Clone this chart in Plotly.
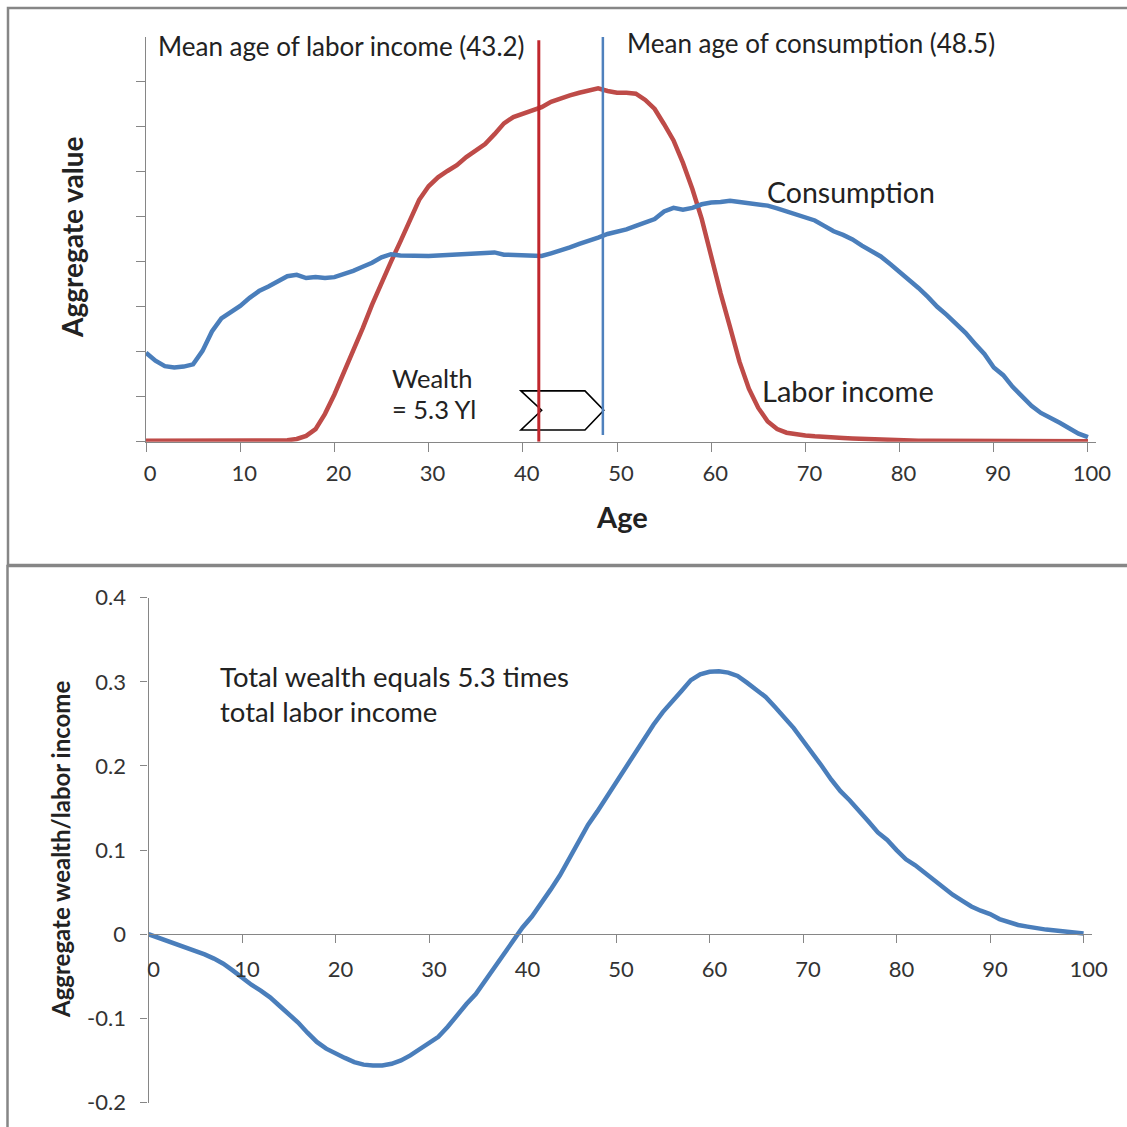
import plotly.graph_objects as go

# ---------------- data ----------------
ages = list(range(0, 101))

consumption = [
    1.98, 1.80, 1.68, 1.65, 1.67, 1.72, 2.02, 2.45, 2.74, 2.88,
    3.02, 3.20, 3.35, 3.45, 3.57, 3.68, 3.71, 3.64, 3.66, 3.64,
    3.66, 3.72, 3.80, 3.89, 3.98, 4.10, 4.17, 4.14, 4.13, 4.13,
    4.13, 4.14, 4.15, 4.17, 4.17, 4.18, 4.18, 4.21, 4.16, 4.15,
    4.13, 4.12, 4.13, 4.19, 4.25, 4.32, 4.40, 4.46, 4.54, 4.62,
    4.66, 4.72, 4.80, 4.87, 4.95, 5.12, 5.20, 5.16, 5.20, 5.28,
    5.32, 5.33, 5.36, 5.33, 5.31, 5.29, 5.25, 5.19, 5.12, 5.05,
    4.98, 4.92, 4.80, 4.68, 4.60, 4.50, 4.36, 4.24, 4.12, 3.95,
    3.78, 3.60, 3.42, 3.22, 3.00, 2.82, 2.62, 2.42, 2.18, 1.95,
    1.65, 1.48, 1.22, 1.00, 0.80, 0.64, 0.54, 0.42, 0.30, 0.18,
    0.10,
]

labor_income = [
    0.02, 0.02, 0.02, 0.02, 0.02, 0.02, 0.02, 0.02, 0.02, 0.02,
    0.02, 0.02, 0.02, 0.02, 0.02, 0.03, 0.06, 0.13, 0.28, 0.62,
    1.05, 1.52, 1.99, 2.52, 3.05, 3.55, 4.00, 4.45, 4.92, 5.38,
    5.68, 5.88, 6.02, 6.15, 6.33, 6.48, 6.62, 6.84, 7.08, 7.22,
    7.30, 7.36, 7.44, 7.56, 7.64, 7.70, 7.76, 7.80, 7.86, 7.80,
    7.76, 7.76, 7.74, 7.60, 7.40, 7.06, 6.70, 6.20, 5.62, 4.95,
    4.10, 3.30, 2.55, 1.78, 1.18, 0.75, 0.45, 0.28, 0.20, 0.16,
    0.14, 0.12, 0.10, 0.09, 0.08, 0.07, 0.06, 0.06, 0.05, 0.04,
    0.04, 0.03, 0.02, 0.02, 0.02, 0.02, 0.01, 0.01, 0.01, 0.01,
    0.01, 0.01, 0.01, 0.01, 0.01, 0.01, 0.01, 0.01, 0.01, 0.01,
    0.01,
]

wealth_ratio = [
    0.000, -0.004, -0.008, -0.011, -0.015, -0.019, -0.024, -0.029, -0.035, -0.043,
    -0.052, -0.060, -0.067, -0.075, -0.085, -0.095, -0.105, -0.117, -0.128, -0.136,
    -0.142, -0.147, -0.152, -0.155, -0.156, -0.156, -0.154, -0.150, -0.144, -0.137,
    -0.129, -0.122, -0.110, -0.096, -0.083, -0.071, -0.055, -0.039, -0.024, -0.008,
    0.008, 0.021, 0.036, 0.053, 0.070, 0.090, 0.112, 0.130, 0.146, 0.163,
    0.181, 0.198, 0.215, 0.233, 0.249, 0.264, 0.276, 0.289, 0.302, 0.309,
    0.312, 0.3125, 0.311, 0.307, 0.299, 0.291, 0.282, 0.270, 0.258, 0.245,
    0.230, 0.216, 0.200, 0.184, 0.170, 0.159, 0.147, 0.134, 0.121, 0.112,
    0.100, 0.089, 0.082, 0.073, 0.064, 0.055, 0.047, 0.040, 0.033, 0.028,
    0.024, 0.018, 0.014, 0.011, 0.009, 0.007, 0.0055, 0.0045, 0.003, 0.002,
    0.001,
]

mean_age_lines_x = [41.7, 48.5]          # drawn positions of the two vertical lines
mean_age_lines_y = [[0.0, 8.93], [0.15, 9.02]]
chevron_x = [39.8, 42.0, 39.8, 46.6, 48.6, 46.6]
chevron_y = [1.13, 0.70, 0.26, 0.26, 0.70, 1.13]

x_ticks = [0, 10, 20, 30, 40, 50, 60, 70, 80, 90, 100]
top_y_ticks = [0, 1, 2, 3, 4, 5, 6, 7, 8]
bottom_y_ticks = [-0.2, -0.1, 0, 0.1, 0.2, 0.3, 0.4]
bottom_y_labels = ["-0.2", "-0.1", "0", "0.1", "0.2", "0.3", "0.4"]

# ---------------- helpers ----------------
W = H = 1127
def fx(px):
    return px / W
def fy(py):
    return 1 - py / H

BLUE = "#4A7EBB"
RED = "#BE4B48"
RED_V = "#C0272D"
BLUE_V = "#4F81BD"
AXIS = "#868686"
TXT = "#222222"
FONT = "Lato"

fig = go.Figure()

fig.add_trace(go.Scatter(x=ages, y=labor_income, mode="lines",
                         line=dict(color=RED, width=4.5), xaxis="x", yaxis="y",
                         showlegend=False, hoverinfo="skip"))
fig.add_trace(go.Scatter(x=ages, y=consumption, mode="lines",
                         line=dict(color=BLUE, width=4.5), xaxis="x", yaxis="y",
                         showlegend=False, hoverinfo="skip"))
fig.add_trace(go.Scatter(x=ages, y=wealth_ratio, mode="lines",
                         line=dict(color=BLUE, width=4.5), xaxis="x2", yaxis="y2",
                         showlegend=False, hoverinfo="skip"))

shapes = []
# panel borders
shapes.append(dict(type="rect", xref="paper", yref="paper",
                   x0=fx(8), x1=fx(1160), y0=fy(565), y1=fy(8),
                   line=dict(color=AXIS, width=2.5), layer="below"))
shapes.append(dict(type="rect", xref="paper", yref="paper",
                   x0=fx(7.5), x1=fx(1160), y0=fy(1160), y1=fy(566),
                   line=dict(color=AXIS, width=2.5), layer="below"))
# chevron
path = "M " + " L ".join(f"{a},{b}" for a, b in zip(chevron_x, chevron_y)) + " Z"
shapes.append(dict(type="path", xref="x", yref="y", path=path,
                   fillcolor="white", line=dict(color="black", width=1.6), layer="above"))
# mean age lines
shapes.append(dict(type="line", xref="x", yref="y",
                   x0=mean_age_lines_x[0], x1=mean_age_lines_x[0],
                   y0=mean_age_lines_y[0][0], y1=mean_age_lines_y[0][1],
                   line=dict(color=RED_V, width=3), layer="above"))
shapes.append(dict(type="line", xref="x", yref="y",
                   x0=mean_age_lines_x[1], x1=mean_age_lines_x[1],
                   y0=mean_age_lines_y[1][0], y1=mean_age_lines_y[1][1],
                   line=dict(color=BLUE_V, width=2.5), layer="above"))

def txt(text, px, py, size=23, bold=False, xanchor="left", angle=0):
    return dict(text=f"<b>{text}</b>" if bold else text, xref="paper", yref="paper",
                x=fx(px), y=fy(py), xanchor=xanchor, yanchor="middle",
                showarrow=False, textangle=angle,
                font=dict(family=FONT, size=size, color=TXT))

annotations = [
    txt("Mean age of labor income (43.2)", 156, 46, size=26),
    txt("Mean age of consumption (48.5)", 625, 43, size=26),
    txt("Consumption", 765, 192, size=28.5),
    txt("Labor income", 760, 390, size=29),
    txt("Wealth", 390, 378, size=25.5),
    txt("= 5.3 Yl", 390, 409, size=25.5),
    txt("Total wealth equals 5.3 times", 218, 676, size=27.5),
    txt("total labor income", 218, 711, size=27.5),
    txt("Aggregate value", 72, 237, size=28, bold=True, xanchor="center", angle=-90),
    txt("Age", 622, 517, size=29, bold=True, xanchor="center"),
    txt("Aggregate wealth/labor income", 60, 850, size=24, bold=True, xanchor="center", angle=-90),
]

axis_common = dict(showline=True, linecolor=AXIS, linewidth=1.3, ticks="outside",
                   tickcolor=AXIS, tickwidth=1.3, showgrid=False, zeroline=False,
                   automargin=False,
                   tickfont=dict(family=FONT, size=22, color="#333333"), fixedrange=True)

fig.update_layout(
    template="none",
    width=W, height=H, margin=dict(l=0, r=0, t=0, b=0, pad=0, autoexpand=False),
    paper_bgcolor="white", plot_bgcolor="white",
    showlegend=False,
    xaxis=dict(domain=[fx(146), fx(1096)], range=[0, 100.85], anchor="y",
               tickvals=x_ticks, ticklen=9, ticklabelstandoff=3, ticklabelshift=4,
               **axis_common),
    yaxis=dict(domain=[fy(441.7), fy(37)], range=[0, 9], anchor="x",
               tickvals=top_y_ticks, ticklen=9, showticklabels=False, **axis_common),
    xaxis2=dict(domain=[fx(148.5), fx(1092)], range=[0, 100.9], anchor="free",
                position=fy(934.3), tickvals=x_ticks, ticklen=8, ticklabelstandoff=7,
                ticklabelshift=5, **axis_common),
    yaxis2=dict(domain=[fy(1102.5), fy(597.7)], range=[-0.2, 0.4], anchor="x2",
                tickvals=bottom_y_ticks, ticktext=bottom_y_labels, ticklen=7,
                ticklabelstandoff=10, **axis_common),
    shapes=shapes,
    annotations=annotations,
)

fig.write_html("out.html", config={"displayModeBar": False},
               post_script="document.documentElement.style.margin='0';"
                           "document.body.style.margin='0';"
                           "document.body.style.overflow='hidden';")
